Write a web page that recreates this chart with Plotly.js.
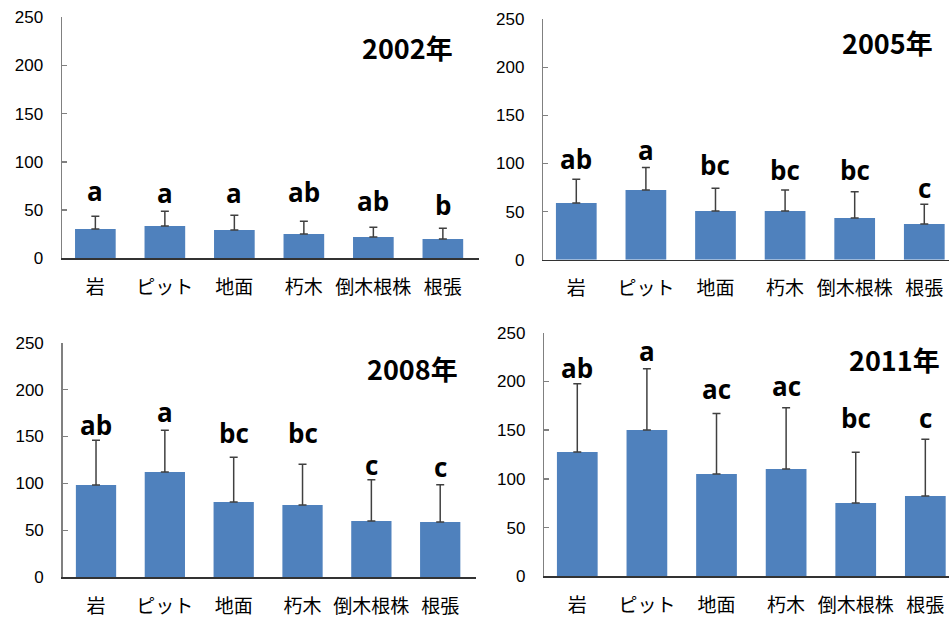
<!DOCTYPE html>
<html>
<head>
<meta charset="utf-8">
<script src="https://cdn.plot.ly/plotly-3.0.1.min.js"></script>
<style>html,body{margin:0;padding:0;background:#fff;}#chart{width:949px;height:619px;}</style>
</head>
<body>
<div id="chart"></div>
<script>
const categories = ["岩", "ピット", "地面", "朽木", "倒木根株", "根張"];
const years = ["2002年", "2005年", "2008年", "2011年"];

const mean2002 = [30.4, 33.5, 29.4, 25.2, 22.1, 20.1];
const sd2002   = [13.2, 15.3, 15.2, 13.2, 10.1, 11.0];
const letters2002 = ["a", "a", "a", "ab", "ab", "b"];
const letterY2002 = [69.5, 67.8, 67.8, 69.2, 59.1, 55.3];

const mean2005 = [58.9, 72.5, 50.6, 50.6, 43.3, 37.1];
const sd2005   = [24.7, 23.5, 23.6, 21.9, 27.4, 20.5];
const letters2005 = ["ab", "a", "bc", "bc", "bc", "c"];
const letterY2005 = [105.1, 113.7, 98.5, 93.3, 93.3, 74.2];

const mean2008 = [98.4, 112.2, 80.3, 77.1, 60.0, 58.9];
const sd2008   = [47.6, 44.4, 47.5, 43.3, 44.0, 39.8];
const letters2008 = ["ab", "a", "bc", "bc", "c", "c"];
const letterY2008 = [162.3, 176.1, 153.9, 153.9, 119.7, 117.5];

const mean2011 = [127.6, 150.1, 105.0, 110.1, 75.2, 82.4];
const sd2011   = [70.1, 63.0, 62.2, 63.0, 52.0, 58.2];
const letters2011 = ["ab", "a", "ac", "ac", "bc", "c"];
const letterY2011 = [213.7, 231.4, 192.4, 195.8, 162.1, 162.1];

const yTicks = [0, 50, 100, 150, 200, 250];

const means = [mean2002, mean2005, mean2008, mean2011];
const sds = [sd2002, sd2005, sd2008, sd2011];
const letters = [letters2002, letters2005, letters2008, letters2011];
const letterYs = [letterY2002, letterY2005, letterY2008, letterY2011];

const W = 949, H = 619;
// panel geometry in pixels: [left, right, top(250), bottom(0)]
const panels = [
  {l: 62, r: 479, t: 17.3, b: 258.3, xr: [-0.48, 5.52]},
  {l: 543.3, r: 949, t: 19.3, b: 259.7, xr: [-0.474, 5.355]},
  {l: 62.7, r: 476, t: 342.7, b: 577.3, xr: [-0.484, 5.52]},
  {l: 544.3, r: 949, t: 332.7, b: 576.3, xr: [-0.474, 5.34]}
];
const titlePos = [[407.5, 48], [887, 43], [412, 368], [894.5, 359.3]];

const barColor = "#4F81BD";
const data = [];
const annotations = [];
const layout = {
  width: W, height: H,
  margin: {l: 0, r: 0, t: 0, b: 0},
  paper_bgcolor: "#fff", plot_bgcolor: "#fff",
  showlegend: false,
  bargap: 0.415,
  font: {family: "Noto Sans CJK JP", color: "#000"}
};

panels.forEach((p, i) => {
  const sx = i === 0 ? "" : String(i + 1);
  data.push({
    type: "bar",
    x: categories,
    y: means[i],
    xaxis: "x" + sx, yaxis: "y" + sx,
    marker: {color: barColor, line: {width: 0}},
    error_y: {type: "data", symmetric: false, array: sds[i], arrayminus: sds[i].map(() => 0),
              color: "#404040", thickness: 1.5, width: 4},
    hoverinfo: "none"
  });
  layout["xaxis" + sx] = {
    domain: [p.l / W, p.r / W],
    anchor: "y" + sx,
    type: "category",
    range: p.xr,
    showline: true, linecolor: "#333", linewidth: 1.5,
    ticks: "", showgrid: false, zeroline: false,
    tickfont: {family: "Noto Sans CJK JP", size: 19, color: "#000"},
    ticklabelstandoff: 11,
    fixedrange: true
  };
  layout["yaxis" + sx] = {
    domain: [1 - p.b / H, 1 - p.t / H],
    anchor: "x" + sx,
    range: [0, 250],
    tickvals: yTicks,
    ticktext: yTicks.map(String),
    ticks: "inside", ticklen: 5, tickcolor: "#808080", tickwidth: 1.5,
    showline: true, linecolor: "#808080", linewidth: 1.5,
    showgrid: false, zeroline: false,
    tickfont: {family: "Liberation Sans", size: 17, color: "#000"},
    ticklabelstandoff: 14,
    fixedrange: true
  };
  letters[i].forEach((t, j) => {
    annotations.push({
      xref: "x" + sx, yref: "y" + sx,
      x: categories[j], y: letterYs[i][j],
      text: "<b>" + t + "</b>", showarrow: false,
      xanchor: "center", yanchor: "middle",
      font: {family: "Open Sans", size: 26, color: "#000"}
    });
  });
  annotations.push({
    xref: "paper", yref: "paper",
    x: titlePos[i][0] / W, y: 1 - titlePos[i][1] / H,
    text: "<b>" + years[i] + "</b>", showarrow: false,
    xanchor: "center", yanchor: "middle",
    font: {family: "Noto Sans CJK JP", size: 27, color: "#000"}
  });
});
layout.annotations = annotations;

Plotly.newPlot("chart", data, layout, {displayModeBar: false, staticPlot: true});
</script>
</body>
</html>
